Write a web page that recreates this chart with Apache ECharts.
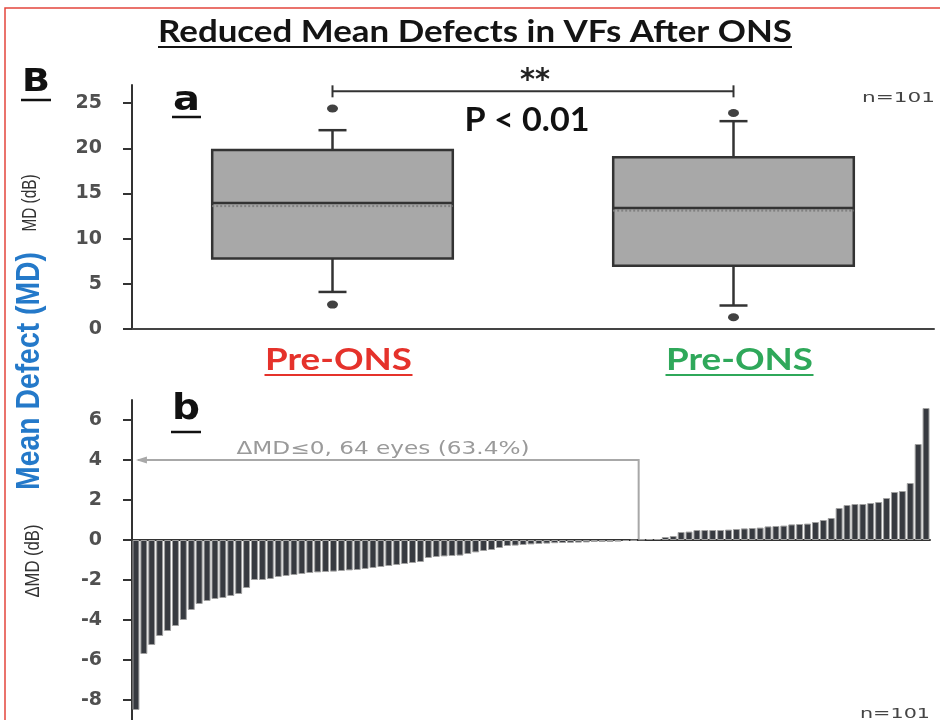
<!DOCTYPE html>
<html><head><meta charset="utf-8">
<script src="https://cdn.jsdelivr.net/npm/echarts@6/dist/echarts.min.js"></script>
<style>html,body{margin:0;padding:0;background:#fff}#c{width:940px;height:720px}</style>
</head><body><div id="c"></div>
<script>
// ---------- data ----------
const boxCategories = ['Pre-ONS', 'Pre-ONS'];
const boxLabelColors = ['#e5322b', '#2fa85a'];
// [min whisker, Q1, median, Q3, max whisker]
const boxStats = [
  [4.1, 7.8, 13.95, 19.8, 22.0],
  [2.6, 7.0, 13.4, 19.0, 23.0]
];
const boxMeans = [13.6, 13.1];
const boxOutliers = [[0, 24.4], [0, 2.7], [1, 23.9], [1, 1.3]];
const topTicks = [0, 5, 10, 15, 20, 25];
const bracketLevel = 26.3;

const deltaMDNeg = [-8.5, -5.7, -5.25, -4.8, -4.55, -4.3, -4.0, -3.5, -3.2, -3.05, -2.95, -2.9, -2.8, -2.7, -2.4, -2.0,
  -2.0, -1.95, -1.85, -1.8, -1.75, -1.7, -1.65, -1.62, -1.6, -1.58, -1.55, -1.52, -1.5, -1.45, -1.4, -1.35,
  -1.3, -1.25, -1.2, -1.15, -1.1, -0.9, -0.85, -0.82, -0.8, -0.78, -0.7, -0.62, -0.55, -0.5, -0.4, -0.3,
  -0.28, -0.25, -0.22, -0.2, -0.18, -0.16, -0.15, -0.14, -0.13, -0.12, -0.1, -0.1, -0.1, -0.08, -0.05, -0.03];
const deltaMDPos = [0.03, 0.05, 0.05, 0.15, 0.2, 0.4, 0.42, 0.5, 0.5, 0.5, 0.5, 0.52, 0.55, 0.58, 0.6, 0.62,
  0.68, 0.7, 0.72, 0.78, 0.8, 0.82, 0.9, 1.0, 1.1, 1.6, 1.75, 1.8, 1.8, 1.85, 1.9, 2.1, 2.4, 2.45, 2.85, 4.8, 6.6];
const deltaMD = deltaMDNeg.concat(deltaMDPos);
const eyeIds = deltaMD.map((v, i) => String(i + 1));
const bottomTicks = [-8, -6, -4, -2, 0, 2, 4, 6];
const annotationLevel = 4;
const annotationText = 'ΔMD≤0, 64 eyes (63.4%)';
const titleText = 'Reduced Mean Defects in VFs After ONS';
const pText = 'P < 0.01';
const nText = 'n=101';

// ---------- chart ----------
const chart = echarts.init(document.getElementById('c'), null, { renderer: 'canvas' });
const axisCol = '#333';
const tickFont = { fontFamily: 'DejaVu Sans', fontWeight: 'bold', fontSize: 19, color: '#505050' };

const option = {
  backgroundColor: '#fff',
  animation: false,
  grid: [
    { left: 132, right: 6, top: 85, height: 244 },
    { left: 132, right: 10, top: 400, height: 323 }
  ],
  xAxis: [
    {
      type: 'category', gridIndex: 0, data: boxCategories,
      axisLine: { lineStyle: { color: '#444', width: 2 } },
      axisTick: { alignWithLabel: true, length: 5, lineStyle: { color: '#444', width: 2 } },
      axisLabel: { show: false },
      splitLine: { show: false }
    },
    {
      type: 'category', gridIndex: 1, data: eyeIds,
      axisLine: { onZero: true, lineStyle: { color: axisCol, width: 2 } },
      axisTick: { show: false }, axisLabel: { show: false }, splitLine: { show: false }
    }
  ],
  yAxis: [
    {
      type: 'value', gridIndex: 0, min: 0, max: 27,
      axisLine: { show: true, lineStyle: { color: axisCol, width: 2 } },
      axisTick: { show: true, length: 9, customValues: topTicks, lineStyle: { color: axisCol, width: 2 } },
      axisLabel: Object.assign({ margin: 30, customValues: topTicks }, tickFont),
      splitLine: { show: false }
    },
    {
      type: 'value', gridIndex: 1, min: -9, max: 7,
      axisLine: { show: true, onZero: false, lineStyle: { color: axisCol, width: 2 } },
      axisTick: { show: true, length: 9, customValues: bottomTicks, lineStyle: { color: axisCol, width: 2 } },
      axisLabel: Object.assign({ margin: 30, customValues: bottomTicks }, tickFont),
      splitLine: { show: false }
    }
  ],
  series: [
    {
      type: 'custom', xAxisIndex: 0, yAxisIndex: 0,
      data: boxStats.map((s, i) => [i].concat(s).concat([boxMeans[i]])),
      encode: { x: 0, y: [1, 2, 3, 4, 5, 6] },
      renderItem: function (params, api) {
        const i = api.value(0);
        const c = v => api.coord([i, v]);
        const cx = c(api.value(3))[0];
        const yMin = c(api.value(1))[1], yQ1 = c(api.value(2))[1], yMed = c(api.value(3))[1];
        const yQ3 = c(api.value(4))[1], yMax = c(api.value(5))[1], yMean = c(api.value(6))[1];
        const bw = api.size([1, 0])[0] * 0.6;
        const st = { stroke: '#333', lineWidth: 2.5 };
        return {
          type: 'group', children: [
            { type: 'line', shape: { x1: cx, y1: yMax, x2: cx, y2: yQ3 }, style: st },
            { type: 'line', shape: { x1: cx, y1: yQ1, x2: cx, y2: yMin }, style: st },
            { type: 'line', shape: { x1: cx - 14, y1: yMax, x2: cx + 14, y2: yMax }, style: st },
            { type: 'line', shape: { x1: cx - 14, y1: yMin, x2: cx + 14, y2: yMin }, style: st },
            { type: 'rect', shape: { x: cx - bw / 2, y: yQ3, width: bw, height: yQ1 - yQ3 }, style: { fill: '#a8a8a8', stroke: '#333', lineWidth: 2.5 } },
            { type: 'line', shape: { x1: cx - bw / 2, y1: yMean, x2: cx + bw / 2, y2: yMean }, style: { stroke: '#808080', lineWidth: 2, lineDash: [2, 2] } },
            { type: 'line', shape: { x1: cx - bw / 2, y1: yMed, x2: cx + bw / 2, y2: yMed }, style: st }
          ]
        };
      },
      z: 2
    },
    {
      type: 'scatter', xAxisIndex: 0, yAxisIndex: 0, data: boxOutliers,
      symbol: 'circle', symbolSize: [11, 8], itemStyle: { color: '#111' }, z: 3
    },
    {
      type: 'bar', xAxisIndex: 1, yAxisIndex: 1, data: deltaMD,
      barWidth: '88%',
      itemStyle: { color: '#373a40', borderColor: '#a0a0a0', borderWidth: 1 }
    }
  ]
};
chart.setOption(option);

// ---------- annotations ----------
const mctx = document.createElement('canvas').getContext('2d');
function textW(font, s) { mctx.font = font; return mctx.measureText(s).width; }

const g = [];
// text stretched horizontally to a target width (the reference is horizontally stretched)
function sText(txt, font, x, y, targetW, fill, align, rotation) {
  const sx = targetW / textW(font, txt);
  const el = { type: 'text', x: x, y: y, scaleX: sx, style: { text: txt, font: font, fill: fill, align: align || 'center', verticalAlign: 'middle' } };
  if (rotation) el.rotation = rotation;
  g.push(el);
}
// red frame
g.push({ type: 'rect', shape: { x: 5, y: 8, width: 1000, height: 800 }, style: { fill: null, stroke: '#e4453d', lineWidth: 1.5 }, silent: true });
// title
sText(titleText, 'bold 30px Lato', 475, 32, 634, '#141414');
g.push({ type: 'line', shape: { x1: 158, y1: 47, x2: 792, y2: 47 }, style: { stroke: '#141414', lineWidth: 2 } });
// panel letters
function letter(txt, x, y, size, uy, w) {
  const f = 'bold ' + size + 'px "DejaVu Sans"';
  sText(txt, f, x, y, w, '#111', 'left');
  g.push({ type: 'line', shape: { x1: x - 1, y1: uy, x2: x + w + 1, y2: uy }, style: { stroke: '#111', lineWidth: 2.5 } });
}
letter('B', 22, 83, 32, 100, 28);
letter('a', 173, 101, 34, 117, 27);
letter('b', 172, 410, 36, 432, 28);

// category labels (from categories) with underline
boxCategories.forEach((c, i) => {
  const px = chart.convertToPixel({ xAxisIndex: 0 }, i) + 6;
  sText(c, 'bold 30px Lato', px, 360, 147, boxLabelColors[i]);
  g.push({ type: 'line', shape: { x1: px - 74, y1: 375, x2: px + 74, y2: 375 }, style: { stroke: boxLabelColors[i], lineWidth: 2 } });
});

// significance bracket
const bx0 = chart.convertToPixel({ xAxisIndex: 0 }, 0);
const bx1 = chart.convertToPixel({ xAxisIndex: 0 }, 1);
const by = chart.convertToPixel({ yAxisIndex: 0 }, bracketLevel);
g.push({ type: 'polyline', shape: { points: [[bx0, by - 6], [bx0, by + 6]] }, style: { stroke: '#333', lineWidth: 2 } });
g.push({ type: 'polyline', shape: { points: [[bx1, by - 6], [bx1, by + 6]] }, style: { stroke: '#333', lineWidth: 2 } });
g.push({ type: 'line', shape: { x1: bx0, y1: by, x2: bx1, y2: by }, style: { stroke: '#333', lineWidth: 2 } });
sText('**', 'bold 30px "DejaVu Sans"', (bx0 + bx1) / 2 + 2, by - 10, 30, '#222');
sText(pText, 'bold 32px Lato', 527, 121, 125, '#111');
sText(nText, '14px "DejaVu Sans"', 935, 98, 73, '#444', 'right');
sText(nText, '14px "DejaVu Sans"', 930, 714, 70, '#444', 'right');

// axis titles (rotated)
sText('MD (dB)', '21px "Liberation Sans"', 30, 203, 57, '#333', 'center', Math.PI / 2);
sText('ΔMD (dB)', '21px "Liberation Sans"', 33, 561, 73, '#333', 'center', Math.PI / 2);
sText('Mean Defect (MD)', 'bold 34px "Liberation Sans"', 30, 371, 238, '#2479c9', 'center', Math.PI / 2);

// ΔMD <= 0 annotation
const negCount = deltaMDNeg.length;
const ax0 = chart.convertToPixel({ xAxisIndex: 1 }, 0) + 2;
const ax1 = (chart.convertToPixel({ xAxisIndex: 1 }, negCount - 1) + chart.convertToPixel({ xAxisIndex: 1 }, negCount)) / 2 + 1;
const ay = chart.convertToPixel({ yAxisIndex: 1 }, annotationLevel);
const ay0 = chart.convertToPixel({ yAxisIndex: 1 }, 0);
g.push({ type: 'polyline', shape: { points: [[ax0, ay], [ax1, ay], [ax1, ay0]] }, style: { stroke: '#a8a8a8', lineWidth: 2, fill: null } });
g.push({ type: 'polygon', shape: { points: [[ax0 - 2, ay], [ax0 + 9, ay - 3.5], [ax0 + 9, ay + 3.5]] }, style: { fill: '#a8a8a8' } });
sText(annotationText, '17px "DejaVu Sans"', 383, 450, 293, '#9a9a9a');

chart.setOption({ graphic: { elements: g } });
</script>
</body></html>
